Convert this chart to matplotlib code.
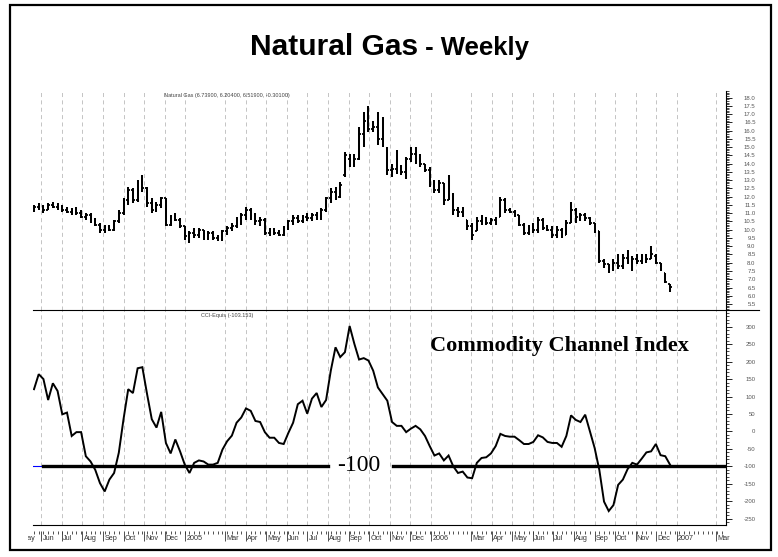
import matplotlib
matplotlib.use("Agg")
import matplotlib.pyplot as plt
import matplotlib.dates as mdates
import matplotlib.ticker as mticker
import numpy as np
import pandas as pd
from matplotlib.patches import Rectangle
from matplotlib.lines import Line2D
from matplotlib.transforms import Bbox

# ── data ─────────────────────────────────────────────────────────────────────
first_week = "2004-05-21"

open_ = [11.3, 11.4, 11.3, 11.2, 11.5, 11.4, 11.3, 11.2, 11.1, 11.2,
         11.0, 10.8, 10.9, 10.5, 10.3, 10.0, 10.1, 10.0, 10.5, 11.0,
         11.8, 12.4, 11.8, 12.8, 12.5, 11.6, 11.2, 11.5, 11.9, 10.3,
         10.8, 10.6, 10.2, 9.6, 9.8, 9.7, 10.0, 9.6, 9.8, 9.5,
         9.4, 9.9, 10.1, 10.2, 10.6, 10.9, 11.2, 10.8, 10.5, 10.6,
         9.8, 9.9, 9.8, 9.7, 10.1, 10.5, 10.7, 10.5, 10.8, 10.7,
         10.9, 10.7, 11.2, 11.9, 12.3, 12.0, 13.3, 14.3, 14.4, 14.3,
         15.8, 16.6, 16.1, 16.2, 15.5, 14.8, 13.6, 13.7, 13.8, 13.5,
         14.3, 14.6, 14.5, 14.0, 13.6, 12.9, 12.4, 12.8, 11.8, 12.0,
         11.2, 11.1, 10.6, 10.2, 9.9, 10.5, 10.7, 10.4, 10.6, 10.8,
         11.8, 11.2, 11.1, 10.9, 10.3, 9.8, 10.2, 10.0, 10.6, 10.1,
         10.0, 9.7, 10.0, 9.7, 10.4, 11.2, 10.8, 10.9, 10.7, 10.4,
         9.9, 8.1, 7.9, 7.6, 8.0, 7.8, 8.3, 8.0, 8.2, 8.1,
         8.3, 8.2, 8.4, 8.0, 7.4, 6.7]
high = [11.5, 11.6, 11.5, 11.6, 11.7, 11.6, 11.5, 11.4, 11.3, 11.4,
        11.2, 11.0, 11.0, 10.7, 10.4, 10.3, 10.3, 10.6, 11.2, 11.9,
        12.6, 12.5, 13.0, 13.3, 12.6, 11.9, 11.7, 12.0, 11.9, 10.9,
        11.0, 10.7, 10.2, 9.9, 10.1, 10.1, 10.0, 9.9, 9.9, 9.7,
        10.0, 10.2, 10.4, 10.8, 11.0, 11.4, 11.3, 11.0, 10.8, 10.7,
        10.1, 10.1, 10.0, 10.2, 10.6, 10.9, 10.9, 10.9, 11.0, 11.0,
        11.1, 11.3, 12.0, 12.5, 12.6, 12.9, 14.7, 14.6, 14.6, 16.2,
        17.1, 17.5, 16.6, 17.1, 16.8, 15.0, 14.0, 14.8, 13.9, 14.4,
        15.0, 15.0, 14.6, 14.0, 13.8, 13.0, 13.0, 12.8, 13.3, 12.2,
        11.4, 11.4, 10.6, 10.4, 10.8, 10.9, 10.8, 10.7, 10.8, 12.0,
        11.9, 11.3, 11.2, 10.9, 10.4, 10.3, 10.4, 10.8, 10.7, 10.3,
        10.2, 10.2, 10.1, 10.6, 11.7, 11.3, 11.0, 11.0, 10.8, 10.4,
        9.9, 8.2, 7.9, 8.2, 8.5, 8.5, 8.8, 8.4, 8.5, 8.5,
        8.5, 9.0, 8.5, 8.0, 7.4, 6.739]
low = [11.1, 11.2, 11.0, 11.2, 11.3, 11.2, 11.1, 11.0, 10.9, 10.9,
       10.7, 10.6, 10.4, 10.2, 9.8, 9.8, 9.9, 9.9, 10.4, 10.9,
       11.5, 11.6, 11.7, 12.3, 11.4, 11.0, 11.1, 11.3, 10.2, 10.2,
       10.5, 10.1, 9.4, 9.2, 9.5, 9.5, 9.4, 9.4, 9.4, 9.3,
       9.3, 9.7, 9.9, 10.1, 10.3, 10.6, 10.6, 10.3, 10.2, 9.7,
       9.6, 9.7, 9.6, 9.6, 10.0, 10.3, 10.4, 10.4, 10.5, 10.5,
       10.6, 10.6, 11.1, 11.6, 11.8, 11.9, 13.2, 13.8, 13.8, 14.2,
       15.0, 15.9, 15.9, 15.1, 15.0, 13.3, 13.2, 13.4, 13.3, 13.1,
       14.1, 14.0, 13.8, 13.5, 12.6, 12.2, 12.2, 11.5, 11.8, 10.9,
       10.8, 10.8, 10.0, 9.4, 9.9, 10.3, 10.3, 10.3, 10.3, 10.8,
       11.0, 11.0, 10.8, 10.2, 9.7, 9.7, 9.8, 9.8, 10.0, 9.9,
       9.5, 9.5, 9.5, 9.7, 10.4, 10.4, 10.5, 10.5, 10.3, 9.8,
       8.0, 7.7, 7.4, 7.5, 7.6, 7.6, 7.9, 7.5, 7.9, 7.9,
       8.0, 8.2, 7.9, 7.5, 6.8, 6.204]
close = [11.4, 11.3, 11.2, 11.5, 11.4, 11.3, 11.2, 11.1, 11.2, 11.0,
         10.8, 10.9, 10.5, 10.3, 10.0, 10.1, 10.0, 10.5, 11.0, 11.8,
         12.4, 11.8, 12.8, 12.5, 11.6, 11.2, 11.5, 11.9, 10.3, 10.8,
         10.6, 10.2, 9.6, 9.8, 9.7, 10.0, 9.6, 9.8, 9.5, 9.4,
         9.9, 10.1, 10.2, 10.6, 10.9, 11.2, 10.8, 10.5, 10.6, 9.8,
         9.9, 9.8, 9.7, 10.1, 10.5, 10.7, 10.5, 10.8, 10.7, 10.9,
         10.7, 11.2, 11.9, 12.3, 12.0, 12.7, 14.5, 14.4, 14.3, 15.8,
         16.6, 16.1, 16.2, 15.5, 15.4, 13.6, 13.7, 13.8, 13.5, 14.3,
         14.6, 14.5, 14.0, 13.6, 12.9, 12.4, 12.8, 11.8, 12.6, 11.2,
         11.1, 11.0, 10.2, 9.7, 10.5, 10.7, 10.4, 10.6, 10.5, 11.8,
         11.2, 11.1, 10.9, 10.3, 9.8, 10.2, 10.0, 10.6, 10.1, 10.0,
         9.7, 10.0, 9.7, 10.4, 11.2, 10.8, 10.9, 10.7, 10.4, 9.9,
         8.1, 7.9, 7.6, 8.0, 7.8, 8.3, 8.0, 8.2, 8.1, 8.3,
         8.2, 8.5, 8.0, 7.6, 6.82, 6.519]

cci = [121, 164, 150, 90, 138, 116, 49, 54, -13, -2,
       -2, -71, -86, -110, -148, -172, -138, -119, -61, 35,
       121, 110, 181, 184, 107, 35, 11, 56, -33, -63,
       -23, -57, -95, -119, -90, -83, -86, -95, -95, -90,
       -52, -28, -12, 25, 40, 66, 59, 30, 27, -2,
       -18, -18, -33, -36, -4, 25, 78, 88, 51, 94,
       110, 70, 90, 174, 241, 213, 227, 302, 251, 206,
       210, 203, 174, 126, 107, 88, 27, 16, 16, -2,
       8, 16, 6, -13, -42, -69, -63, -83, -69, -100,
       -119, -115, -132, -134, -90, -76, -74, -63, -42, -7,
       -13, -15, -15, -25, -36, -36, -30, -11, -17, -30,
       -33, -33, -44, -13, 46, 33, 27, 48, 1, -47,
       -110, -201, -228, -211, -153, -138, -108, -90, -95, -78,
       -60, -57, -36, -68, -71, -95]

# x axis: label dates and their texts (Feb has no label)
label_dates = ["2004-05-01", "2004-06-01", "2004-07-01", "2004-08-01", "2004-09-01",
               "2004-10-01", "2004-11-01", "2004-12-01", "2005-01-01", "2005-03-01",
               "2005-04-01", "2005-05-01", "2005-06-01", "2005-07-01", "2005-08-01",
               "2005-09-01", "2005-10-01", "2005-11-01", "2005-12-01", "2006-01-01",
               "2006-03-01", "2006-04-01", "2006-05-01", "2006-06-01", "2006-07-01",
               "2006-08-01", "2006-09-01", "2006-10-01", "2006-11-01", "2006-12-01",
               "2007-01-01", "2007-03-01"]
label_texts = ["May", "Jun", "Jul", "Aug", "Sep", "Oct", "Nov", "Dec", "2005", "Mar",
               "Apr", "May", "Jun", "Jul", "Aug", "Sep", "Oct", "Nov", "Dec", "2006",
               "Mar", "Apr", "May", "Jun", "Jul", "Aug", "Sep", "Oct", "Nov", "Dec",
               "2007", "Mar"]

price_header = "Natural Gas (6.73900, 6.20400, 6.51900, -0.30100)"
cci_header = "CCI-Equis (-103.153)"

# ── figure ───────────────────────────────────────────────────────────────────
plt.rcParams["font.family"] = ["Liberation Sans", "DejaVu Sans"]
plt.rcParams["lines.scale_dashes"] = False

W, H = 778, 557
fig = plt.figure(figsize=(W / 100, H / 100), dpi=100)


def fx(px):
    return px / W


def fy(py):
    return 1 - py / H


LEFT, RIGHT = 33, 725.7
P_TOP, SPLIT, C_BOT = 91, 310.3, 525

ax_p = fig.add_axes([fx(LEFT), fy(SPLIT), fx(RIGHT) - fx(LEFT), fy(P_TOP) - fy(SPLIT)])
ax_c = fig.add_axes([fx(LEFT), fy(C_BOT), fx(RIGHT) - fx(LEFT), fy(SPLIT) - fy(C_BOT)],
                    sharex=ax_p)
ax_d = fig.add_axes([fx(LEFT), fy(545), fx(RIGHT) - fx(LEFT), fy(530.5) - fy(545)],
                    sharex=ax_p)

weeks = pd.date_range(first_week, periods=len(close), freq="7D")
xd = mdates.date2num(weeks)

# OHLC bars
tick = 2.6  # days
ax_p.vlines(xd, low, high, color="black", lw=1.45)
ax_p.hlines(open_, xd - tick, xd, color="black", lw=1.3)
ax_p.hlines(close, xd, xd + tick, color="black", lw=1.3)

# CCI line
ax_c.plot(xd, cci, color="black", lw=1.4, solid_joinstyle="miter")
ax_c.axhline(-100, xmin=0, xmax=0.0144, color="blue", lw=0.8)
ax_c.axhline(-100, xmin=0.0144, xmax=0.426, color="black", lw=2.4)
ax_c.axhline(-100, xmin=0.520, xmax=1, color="black", lw=2.4)
ax_c.text(0.470, -114.5, "-100", transform=ax_c.get_yaxis_transform(),
          ha="center", va="baseline", fontsize=17, family="Liberation Serif")
ax_c.text(0.760, 231, "Commodity Channel Index", transform=ax_c.get_yaxis_transform(),
          ha="center", va="baseline", fontsize=16, fontweight="bold",
          family="Liberation Serif")

x0 = mdates.date2num(pd.Timestamp(first_week)) - 1.5
ax_p.set_xlim(x0, x0 + 1029.3)
ax_p.set_ylim(5.12, 18.4)
ax_c.set_ylim(-268, 347)

for ax in (ax_p, ax_c):
    ax.xaxis.set_major_locator(mdates.MonthLocator())
    ax.grid(axis="x", which="major", color="#c4c4c4", lw=0.7, linestyle=(0, (2.9, 2.4)))
    ax.tick_params(axis="x", which="both", length=0, labelbottom=False)
    ax.yaxis.tick_right()
    ax.tick_params(axis="y", which="major", direction="out", length=4, width=0.6,
                   labelsize=4.3, labelcolor="#555555", pad=17.5)
    ax.tick_params(axis="y", which="minor", direction="out", length=2, width=0.5)
    for s in ("left", "top"):
        ax.spines[s].set_visible(False)
    ax.spines["right"].set_linewidth(0.8)
    ax.set_axisbelow(True)

ax_p.spines["bottom"].set_visible(False)
ax_c.spines["bottom"].set_linewidth(0.8)

ax_p.yaxis.set_major_locator(mticker.MultipleLocator(0.5))
ax_p.yaxis.set_minor_locator(mticker.MultipleLocator(0.1))
ax_p.yaxis.set_major_formatter(mticker.FormatStrFormatter("%.1f"))
ax_c.yaxis.set_major_locator(mticker.MultipleLocator(50))
ax_c.yaxis.set_minor_locator(mticker.MultipleLocator(10))
ax_c.yaxis.set_major_formatter(mticker.FormatStrFormatter("%d"))
for ax in (ax_p, ax_c):
    for lab in ax.get_yticklabels():
        lab.set_horizontalalignment("right")

# date strip
lab_x = mdates.date2num(pd.to_datetime(label_dates))
ax_d.set_ylim(0, 1)
ax_d.set_yticks([])
for s in ax_d.spines.values():
    s.set_visible(False)
ax_d.patch.set_alpha(0)
ax_d.xaxis.tick_top()
ax_d.xaxis.set_major_locator(mticker.FixedLocator(lab_x))
ax_d.xaxis.set_minor_locator(mdates.WeekdayLocator(byweekday=mdates.FR))
ax_d.tick_params(axis="x", which="major", direction="in", length=7.5, width=0.6,
                 color="#333333", labeltop=False, labelbottom=False)
ax_d.tick_params(axis="x", which="minor", direction="in", length=2, width=0.6,
                 color="#333333")
clip = Bbox.from_extents(28, 0, W, H)
for xv, t in zip(lab_x, label_texts):
    txt = ax_d.text(xv + 1.8, 0.36, t, transform=ax_d.get_xaxis_transform(),
                    ha="left", va="baseline", fontsize=5.2, color="#333333")
    txt.set_clip_box(clip)
    txt.set_clip_on(True)

# panel headers
fig.text(fx(227), fy(95), price_header, ha="center", va="center", fontsize=4, color="#444444")
fig.text(fx(227), fy(315), cci_header, ha="center", va="center", fontsize=4, color="#444444")

# separator between panels
fig.add_artist(Line2D([fx(LEFT), fx(759)], [fy(SPLIT), fy(SPLIT)], color="black", lw=0.8))

# title
fig.text(fx(418), fy(55), "Natural Gas", ha="right", va="baseline",
         fontsize=21.5, fontweight="bold")
fig.text(fx(418), fy(55), " - Weekly", ha="left", va="baseline",
         fontsize=18.5, fontweight="bold")

# outer frame
fig.add_artist(Rectangle((fx(10), fy(550)), fx(771) - fx(10), fy(5) - fy(550),
                         transform=fig.transFigure, fill=False, edgecolor="black", lw=1.6))

fig.savefig("out.png", dpi=100)
